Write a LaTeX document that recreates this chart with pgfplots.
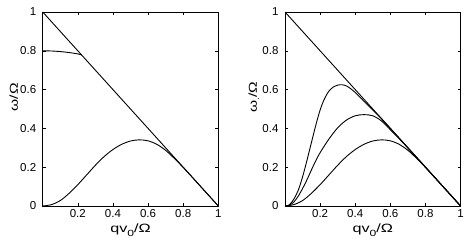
\documentclass[border=0pt]{standalone}
\usepackage{pgfplots}
\pgfplotsset{compat=1.18}
\usepackage{fontspec}
\setmainfont{Liberation Sans}
\newfontfamily\labfont[FakeStretch=1.35]{Liberation Sans}
\pgfplotstableread{
x y
0 0
0.05 0.007
0.1 0.028
0.15 0.065
0.2 0.11
0.25 0.16
0.3 0.21
0.35 0.255
0.4 0.291
0.45 0.318
0.5 0.335
0.55 0.341
0.6 0.336
0.65 0.318
0.7 0.287
0.75 0.245
0.8 0.199
0.85 0.15
0.9 0.1
0.95 0.05
1 0
}\lowcurve
\pgfplotstableread{
x y
0 0.8
0.05 0.799
0.1 0.796
0.15 0.791
0.2 0.784
0.222 0.779
}\upcurve
\pgfplotstableread{
x y
0 0
0.025 0.006
0.05 0.035
0.075 0.08
0.1 0.15
0.125 0.235
0.15 0.325
0.175 0.415
0.2 0.495
0.225 0.553
0.25 0.592
0.275 0.613
0.3 0.623
0.325 0.625
0.35 0.619
0.375 0.604
0.4 0.585
0.425 0.563
0.45 0.540
0.5 0.495
0.55 0.449
0.6 0.4
0.7 0.3
0.8 0.2
0.9 0.1
1 0
}\topcurve
\pgfplotstableread{
x y
0 0
0.025 0.004
0.05 0.02
0.075 0.05
0.1 0.09
0.125 0.135
0.15 0.185
0.175 0.233
0.2 0.275
0.25 0.345
0.3 0.403
0.35 0.443
0.4 0.465
0.45 0.471
0.5 0.465
0.55 0.438
0.6 0.393
0.65 0.347
0.7 0.299
0.75 0.25
0.8 0.2
0.9 0.1
1 0
}\midcurve
\pgfplotsset{
  mystyle/.style={
    scale only axis, width=175.6pt, height=194pt,
    xmin=0, xmax=1, ymin=0, ymax=1,
    xtick={0.2,0.4,0.6,0.8,1}, ytick={0,0.2,0.4,0.6,0.8,1},
    tick align=inside, major tick length=3pt,
    tick style={black, line width=0.4pt},
    axis line style={line width=0.6pt},
    /pgf/number format/assume math mode=true,
    ticklabel style={font=\fontsize{11.5}{13}\selectfont},
    yticklabel style={xshift=-3pt},
    xlabel={qv\raisebox{-3.5pt}{\fontsize{9}{9}\selectfont 0}/Ω},
    xlabel style={font=\labfont\fontsize{12}{14}\selectfont, at={(axis description cs:0.5,0)}, anchor=base, yshift=-27pt},
  }
}
\begin{document}
\begin{tikzpicture}
\begin{axis}[mystyle, at={(0,0)}, ylabel={ω/Ω},
  ylabel style={font=\labfont\fontsize{11.5}{13}\selectfont, at={(axis description cs:-0.165,0.56)}, anchor=center}]
\addplot[black, line width=0.9pt] coordinates {(0,1) (1,0)};
\addplot[black, line width=0.9pt, smooth] table[x=x,y=y] {\upcurve};
\addplot[black, line width=0.9pt, smooth] table[x=x,y=y] {\lowcurve};
\end{axis}
\begin{axis}[mystyle, at={(242.3pt,0)}, ylabel={ω\raisebox{-2pt}{\fontsize{8}{8}\selectfont .}/Ω},
  ylabel style={font=\labfont\fontsize{11.5}{13}\selectfont, at={(axis description cs:-0.178,0.56)}, anchor=center}]
\addplot[black, line width=0.9pt] coordinates {(0,1) (1,0)};
\addplot[black, line width=0.9pt, smooth] table[x=x,y=y] {\topcurve};
\addplot[black, line width=0.9pt, smooth] table[x=x,y=y] {\midcurve};
\addplot[black, line width=0.9pt, smooth] table[x=x,y=y] {\lowcurve};
\end{axis}
\pgfresetboundingbox
\useasboundingbox (-42.7pt,-45pt) rectangle (426.3pt,206pt);
\end{tikzpicture}
\end{document}
